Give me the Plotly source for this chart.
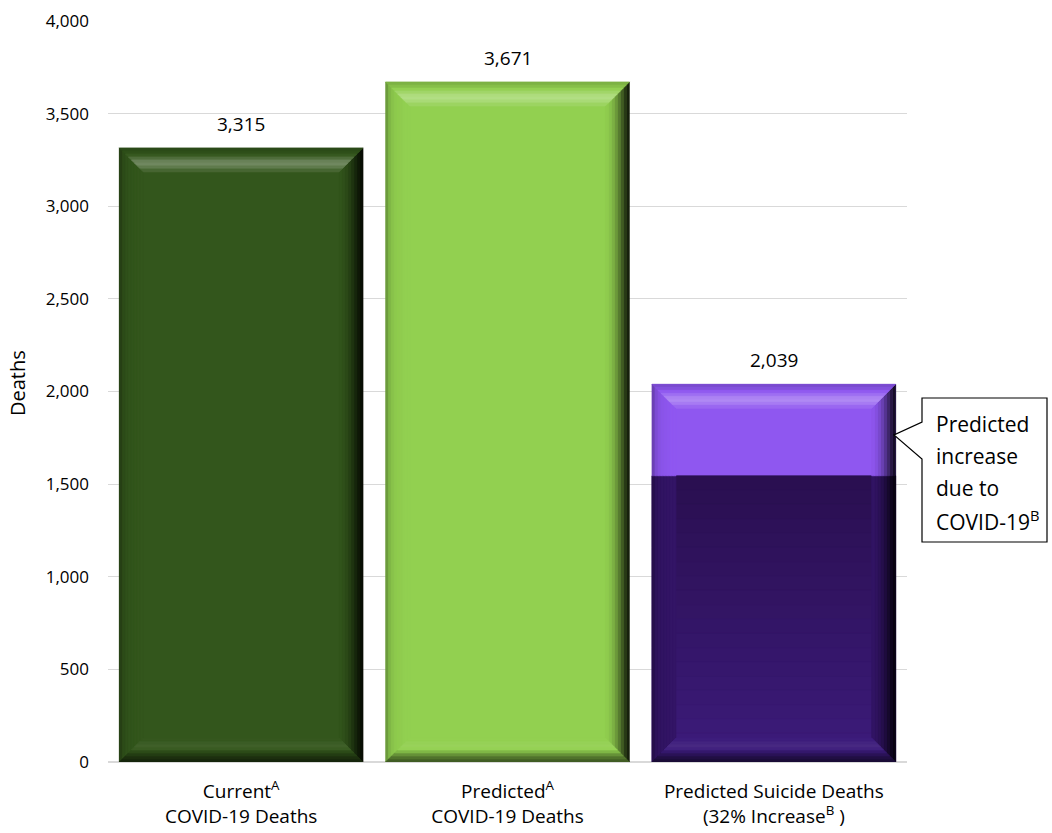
import plotly.graph_objects as go

# ---- data ----
categories = [
    "Current<sup>A</sup><br>COVID-19 Deaths",
    "Predicted<sup>A</sup><br>COVID-19 Deaths",
    "Predicted Suicide Deaths<br>(32% Increase<sup>B</sup> )",
]
base_values = [3315, 3671, 1545]       # main bar / baseline suicide deaths
increase_values = [0, 0, 494]          # predicted increase due to COVID-19
total_labels = ["3,315", "3,671", "2,039"]
y_ticks = [0, 500, 1000, 1500, 2000, 2500, 3000, 3500, 4000]

# (top colour, bottom colour) of each base segment's body
base_colors = [("#33561c", "#33561c"), ("#92d050", "#92d050"), ("#2a0f50", "#3c1b7b")]
increase_color = "#8f57f0"

FONT = "Open Sans, sans-serif"

# ---- layout geometry (pixels) ----
W, H = 1052, 833
M_L, M_R, M_T, M_B = 108, 145, 21, 71
PLOT_W = W - M_L - M_R
PLOT_H = H - M_T - M_B
Y_MAX = 4000
BAR_W = 0.915

x_pos = list(range(len(categories)))

fig = go.Figure()
fig.add_trace(go.Bar(
    x=x_pos, y=base_values, width=BAR_W,
    marker=dict(color=[c[0] for c in base_colors], line=dict(width=0)),
    hoverinfo="skip", showlegend=False,
))
fig.add_trace(go.Bar(
    x=x_pos, y=increase_values, width=BAR_W,
    marker=dict(color=increase_color, line=dict(width=0)),
    hoverinfo="skip", showlegend=False,
))

# value labels above each stack
totals = [b + i for b, i in zip(base_values, increase_values)]
for xp, tot, lab in zip(x_pos, totals, total_labels):
    fig.add_annotation(x=xp, y=tot, text=lab, showarrow=False, xanchor="center",
                       yanchor="bottom", yshift=9,
                       font=dict(family=FONT, size=19, color="#000"))


# ---- colour helpers ----
def rgb(hex_color):
    hex_color = hex_color.lstrip("#")
    return [int(hex_color[i:i + 2], 16) for i in (0, 2, 4)]


def mix(c1, c2, t):
    a, b = rgb(c1), rgb(c2)
    return "#%02x%02x%02x" % tuple(int(round(x + (y - x) * t)) for x, y in zip(a, b))


def shade(hex_color, f):
    r, g, b = rgb(hex_color)
    if f >= 0:
        r, g, b = (int(c + (255 - c) * f) for c in (r, g, b))
    else:
        r, g, b = (int(c * (1 + f)) for c in (r, g, b))
    return "#%02x%02x%02x" % (r, g, b)


def poly(pts, color):
    d = "M " + " L ".join(f"{x},{y}" for x, y in pts) + " Z"
    # a hairline of the fill colour hides anti-aliasing seams between bands
    fig.add_shape(type="path", path=d, xref="x", yref="y", fillcolor=color,
                  line=dict(color=color, width=0.7), layer="above")


# ---- bevelled frame drawn over each bar segment ----
PX_X = len(categories) / PLOT_W     # data units per pixel (x)
PX_Y = Y_MAX / PLOT_H               # data units per pixel (y)
BEV = 24                            # bevel depth in pixels

# shading factors from the outer edge (first) to the inner edge (last)
TOP_PROFILE = [-0.14, -0.08, 0.02, 0.14, 0.26, 0.3, 0.22, 0.1]
RIGHT_PROFILE = [-0.84, -0.72, -0.56, -0.4, -0.26, -0.15, -0.07, -0.02]
LEFT_PROFILE = [-0.25, -0.12, -0.06, -0.03, -0.02, -0.01, 0.0, 0.0]
BOTTOM_PROFILE = [-0.55, -0.45, -0.3, -0.12, 0.03, 0.06, 0.04, 0.01]


def bevel(xc, y0, y1, col_top, col_bot, top=True, bottom=True):
    hw = BAR_W / 2
    x0, x1 = xc - hw, xc + hw
    bx = BEV * PX_X
    by = BEV * PX_Y
    ty = by if top else 0.0
    byb = by if bottom else 0.0

    # body gradient (top to bottom)
    if col_top != col_bot:
        n = 20
        for k in range(n):
            ya = y1 - (y1 - y0) * k / n
            yb = y1 - (y1 - y0) * (k + 1) / n
            poly([(x0, ya), (x1, ya), (x1, yb), (x0, yb)], mix(col_top, col_bot, (k + 0.5) / n))

    mid = mix(col_top, col_bot, 0.5)
    n = len(TOP_PROFILE)
    for k in range(n):
        a, b = k / n, (k + 1) / n
        # right side
        poly([(x1 - a * bx, y0 + a * byb), (x1 - a * bx, y1 - a * ty),
              (x1 - b * bx, y1 - b * ty), (x1 - b * bx, y0 + b * byb)],
             shade(mid, RIGHT_PROFILE[k]))
        # left side
        poly([(x0 + a * bx, y0 + a * byb), (x0 + a * bx, y1 - a * ty),
              (x0 + b * bx, y1 - b * ty), (x0 + b * bx, y0 + b * byb)],
             shade(mid, LEFT_PROFILE[k]))
        if top:
            poly([(x0 + a * bx, y1 - a * by), (x1 - a * bx, y1 - a * by),
                  (x1 - b * bx, y1 - b * by), (x0 + b * bx, y1 - b * by)],
                 shade(col_top, TOP_PROFILE[k]))
        if bottom:
            poly([(x0 + a * bx, y0 + a * by), (x1 - a * bx, y0 + a * by),
                  (x1 - b * bx, y0 + b * by), (x0 + b * bx, y0 + b * by)],
                 shade(col_bot, BOTTOM_PROFILE[k]))


for xp, b, inc, (ct, cb) in zip(x_pos, base_values, increase_values, base_colors):
    stacked = inc > 0
    bevel(xp, 0, b, ct, cb, top=not stacked, bottom=True)
    if stacked:
        bevel(xp, b, b + inc, increase_color, increase_color, top=True, bottom=False)


# ---- callout box for the increase segment ----
def to_paper(x, y):
    return (x - M_L) / PLOT_W, (H - M_B - y) / PLOT_H


pts = [(922, 398), (1047, 398), (1047, 542), (922, 542), (922, 459), (894, 435), (922, 422)]
d = "M " + " L ".join("{},{}".format(*to_paper(x, y)) for x, y in pts) + " Z"
fig.add_shape(type="path", path=d, xref="paper", yref="paper", fillcolor="white",
              line=dict(color="#000", width=1.2), layer="above")

callout_lines = ["Predicted", "increase", "due to", "COVID-19<sup>B</sup>"]
for i, t in enumerate(callout_lines):
    xx, yy = to_paper(934, 424 + i * 32)
    fig.add_annotation(x=xx, y=yy, xref="paper", yref="paper", text=t, showarrow=False,
                       xanchor="left", yanchor="middle",
                       font=dict(family=FONT, size=21, color="#000"))

# y-axis title
xx, yy = to_paper(18, 383)
fig.add_annotation(x=xx, y=yy, xref="paper", yref="paper", text="Deaths", textangle=-90,
                   showarrow=False, xanchor="center", yanchor="middle",
                   font=dict(family=FONT, size=20, color="#000"))

fig.update_layout(
    width=W, height=H,
    margin=dict(l=M_L, r=M_R, t=M_T, b=M_B, autoexpand=False),
    barmode="stack",
    plot_bgcolor="white", paper_bgcolor="white",
    xaxis=dict(
        range=[-0.5, 2.5], tickvals=x_pos, ticktext=categories,
        showgrid=False, zeroline=False, showline=False, ticks="",
        ticklabelstandoff=16, automargin=False,
        tickfont=dict(family=FONT, size=19, color="#000"),
    ),
    yaxis=dict(
        range=[0, Y_MAX], tickvals=y_ticks, tickformat=",",
        gridcolor="#d9d9d9", gridwidth=1, zeroline=True, zerolinecolor="#d9d9d9",
        showline=False, ticks="", ticklabelstandoff=18, automargin=False,
        tickfont=dict(family=FONT, size=17, color="#000"),
    ),
)

fig.write_html("out.html")
